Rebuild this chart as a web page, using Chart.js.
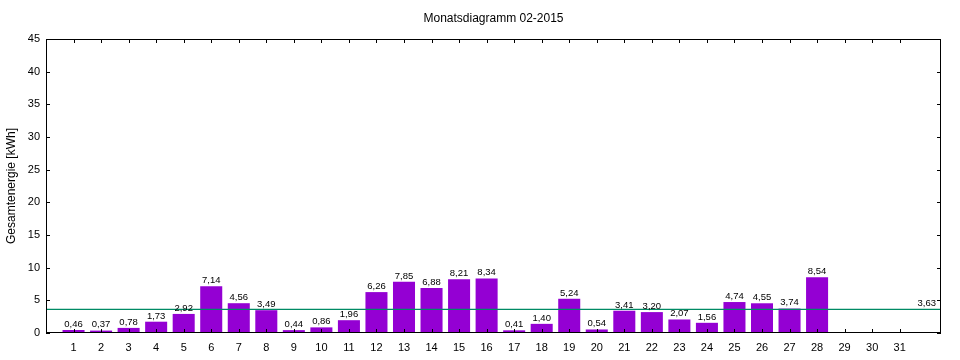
<!DOCTYPE html>
<html>
<head>
<meta charset="utf-8">
<script src="https://cdn.jsdelivr.net/npm/chart.js@4/dist/chart.umd.min.js"></script>
<style>
html,body{margin:0;padding:0;background:#fff;}
#wrap{width:960px;height:360px;}
</style>
</head>
<body>
<div id="wrap"><canvas id="c" width="960" height="360"></canvas></div>
<script>
const days = [1,2,3,4,5,6,7,8,9,10,11,12,13,14,15,16,17,18,19,20,21,22,23,24,25,26,27,28,29,30,31];
const energy = [0.46,0.37,0.78,1.73,2.92,7.14,4.56,3.49,0.44,0.86,1.96,6.26,7.85,6.88,8.21,8.34,0.41,1.40,5.24,0.54,3.41,3.20,2.07,1.56,4.74,4.55,3.74,8.54,null,null,null];
const average = 3.63;
const yTicks = [0,5,10,15,20,25,30,35,40,45];
const titleText = 'Monatsdiagramm 02-2015';
const yLabel = 'Gesamtenergie [kWh]';

const fmt = v => v.toFixed(2).replace('.', ',');
const FONT = '"Liberation Sans", Arial, sans-serif';

const barData = days.map((d, i) => ({x: d, y: energy[i]})).filter(p => p.y !== null);
const avgData = [{x: 0, y: average}, {x: 32.5, y: average}];

const decor = {
  id: 'decor',
  afterDatasetsDraw(chart) {
    const ctx = chart.ctx;
    const ca = chart.chartArea;
    const xs = chart.scales.x, ys = chart.scales.y;
    ctx.save();
    ctx.fillStyle = '#000';
    ctx.font = '9.5px ' + FONT;
    ctx.textAlign = 'center';
    ctx.textBaseline = 'bottom';
    const meta = chart.getDatasetMeta(1);
    meta.data.forEach((bar, i) => {
      const v = barData[i].y;
      ctx.fillText(fmt(v), bar.x, bar.y - 1);
    });
    ctx.textAlign = 'right';
    ctx.fillText(fmt(average), ca.right - 5, ys.getPixelForValue(average) - 1);
    ctx.strokeStyle = '#000';
    ctx.lineWidth = 1;
    ctx.strokeRect(Math.round(ca.left) + 0.5, Math.round(ca.top) + 0.5,
                   Math.round(ca.right - ca.left) - 1, Math.round(ca.bottom - ca.top) - 1);
    ctx.beginPath();
    const tl = 4;
    yTicks.forEach(t => {
      const py = Math.round(ys.getPixelForValue(t)) + 0.5;
      ctx.moveTo(ca.left, py); ctx.lineTo(ca.left + tl, py);
      ctx.moveTo(ca.right, py); ctx.lineTo(ca.right - tl, py);
    });
    days.forEach(d => {
      const px = Math.round(xs.getPixelForValue(d)) + 0.5;
      ctx.moveTo(px, ca.bottom); ctx.lineTo(px, ca.bottom - tl);
      ctx.moveTo(px, ca.top); ctx.lineTo(px, ca.top + tl);
    });
    ctx.stroke();
    ctx.restore();
  }
};

new Chart(document.getElementById('c'), {
  type: 'bar',
  data: {
    datasets: [
      {
        type: 'line',
        data: avgData,
        borderColor: '#008a64',
        borderWidth: 1.3,
        pointRadius: 0,
        order: 0
      },
      {
        type: 'bar',
        data: barData,
        backgroundColor: '#9400D3',
        borderWidth: 0,
        barPercentage: 0.8,
        categoryPercentage: 1.0,
        order: 1
      }
    ]
  },
  options: {
    responsive: false,
    animation: false,
    devicePixelRatio: 1,
    layout: {padding: {left: 0, right: 19, top: 0, bottom: 0}},
    plugins: {
      legend: {display: false},
      tooltip: {enabled: false},
      title: {
        display: true,
        text: titleText,
        fullSize: false,
        color: '#000',
        font: {family: FONT, size: 12, weight: 'normal'},
        padding: {top: 11, bottom: 13.6}
      }
    },
    scales: {
      x: {
        type: 'linear',
        min: 0,
        max: 32.5,
        offset: false,
        afterBuildTicks(scale) {
          scale.ticks = days.map(d => ({value: d}));
        },
        afterFit(scale) { scale.height = 27; },
        ticks: {
          autoSkip: false,
          maxRotation: 0,
          color: '#000',
          font: {family: FONT, size: 11},
          padding: 8,
          callback: v => String(v)
        },
        grid: {display: false, drawTicks: false},
        border: {display: false}
      },
      y: {
        min: 0,
        max: 45,
        afterBuildTicks(scale) {
          scale.ticks = yTicks.map(t => ({value: t}));
        },
        afterFit(scale) { scale.width = 46; },
        ticks: {
          color: '#000',
          font: {family: FONT, size: 11},
          padding: 6
        },
        grid: {display: false, drawTicks: false},
        border: {display: false},
        title: {
          display: true,
          text: yLabel,
          color: '#000',
          font: {family: FONT, size: 12},
          padding: {top: 4, bottom: 0}
        }
      }
    }
  },
  plugins: [decor]
});
</script>
</body>
</html>
